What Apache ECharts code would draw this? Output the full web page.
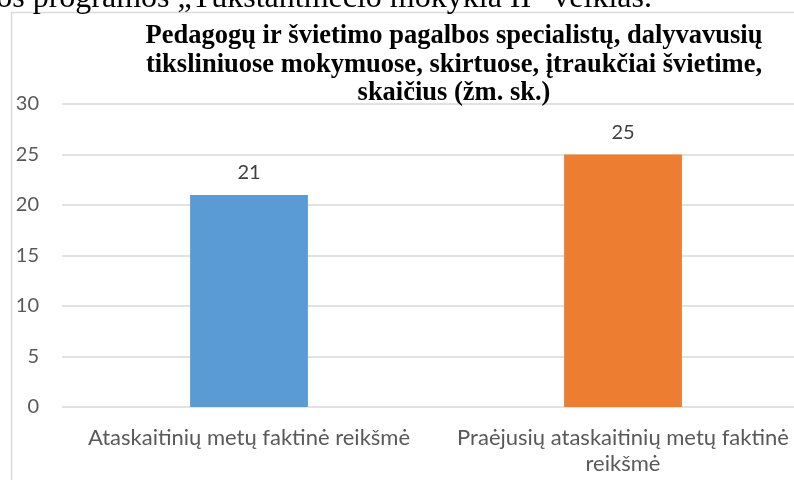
<!DOCTYPE html>
<html>
<head>
<meta charset="utf-8">
<script src="https://cdn.jsdelivr.net/npm/echarts@6/dist/echarts.min.js"></script>
<style>
  html, body { margin: 0; padding: 0; background: #fff; }
  #chart { width: 794px; height: 480px; }
</style>
</head>
<body>
<div id="chart"></div>
<script>
// duomenys
const categories = [
  'Ataskaitinių metų faktinė reikšmė',
  'Praėjusių ataskaitinių metų faktinė\nreikšmė'
]
const values = [21, 25]
const barColors = ['#5b9bd5', '#ed7d31']
const titleText = 'Pedagogų ir švietimo pagalbos specialistų, dalyvavusių\ntiksliniuose mokymuose, skirtuose, įtraukčiai švietime,\nskaičius (žm. sk.)'
const pageText = 'os programos „Tūkstantmečio mokykla II“ veiklas.'

const chart = echarts.init(document.getElementById('chart'))

const option = {
  animation: false,
  title: {
    text: titleText,
    left: 449,
    top: 17,
    textAlign: 'center',
    textStyle: {
      fontFamily: 'Liberation Serif',
      fontWeight: 'bold',
      fontSize: 26.5,
      lineHeight: 28.5,
      color: '#000'
    }
  },
  graphic: [
    {
      type: 'rect',
      shape: { x: 11.5, y: 12.5, width: 820, height: 500 },
      style: { fill: 'none', stroke: '#d9d9d9', lineWidth: 1.5 },
      silent: true
    },
    {
      type: 'text',
      x: 652,
      y: 15,
      style: {
        text: pageText,
        font: '32px "Liberation Serif"',
        fill: '#000',
        align: 'right',
        verticalAlign: 'bottom'
      },
      silent: true
    }
  ],
  grid: {
    left: 62,
    width: 748,
    top: 104,
    bottom: 73,
    outerBoundsMode: 'none'
  },
  xAxis: {
    type: 'category',
    data: categories,
    axisLine: { show: false },
    axisTick: { show: false },
    axisLabel: {
      margin: 18,
      fontFamily: 'Lato',
      fontSize: 22,
      lineHeight: 26,
      color: '#595959',
      interval: 0
    }
  },
  yAxis: {
    type: 'value',
    min: 0,
    max: 30,
    interval: 5,
    axisLine: { show: false },
    axisTick: { show: false },
    axisLabel: {
      margin: 23,
      fontFamily: 'Lato',
      fontSize: 20,
      color: '#595959'
    },
    splitLine: { lineStyle: { color: '#d9d9d9', width: 1.5 } }
  },
  series: [
    {
      type: 'bar',
      barWidth: '31.5%',
      data: values.map((v, i) => ({ value: v, itemStyle: { color: barColors[i] } })),
      label: {
        show: true,
        position: 'top',
        distance: 12,
        fontFamily: 'Lato',
        fontSize: 20,
        color: '#404040'
      }
    }
  ]
}

chart.setOption(option)
</script>
</body>
</html>
